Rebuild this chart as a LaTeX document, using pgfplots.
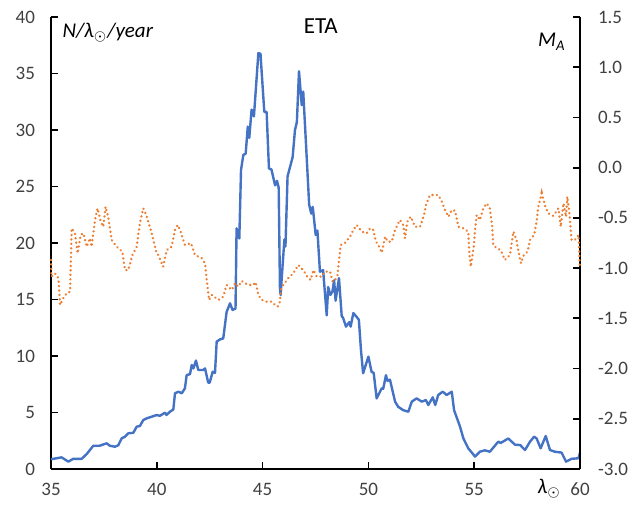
\documentclass[border=0pt]{standalone}
\usepackage{pgfplots}
\pgfplotsset{compat=1.18}
\usepackage{fontspec}
\setmainfont{Carlito}

\definecolor{rateblue}{HTML}{4472C4}
\definecolor{magorange}{HTML}{ED7D31}
\definecolor{ticktext}{HTML}{404040}

% Hourly rate N per unit solar longitude
\pgfplotstableread{
lam N
35.00 0.86
35.50 1.03
35.82 0.65
36.05 0.90
36.45 0.90
36.69 1.33
36.84 1.68
37.00 2.06
37.30 2.06
37.63 2.27
37.78 2.06
38.02 1.97
38.18 2.10
38.34 2.71
38.50 2.86
38.65 3.16
38.89 3.20
39.05 3.75
39.20 3.80
39.36 4.33
39.52 4.48
39.76 4.63
40.00 4.78
40.14 4.70
40.39 4.98
40.46 4.78
40.62 5.07
40.78 5.26
40.86 6.70
41.02 6.84
41.18 6.70
41.33 7.14
41.41 8.30
41.57 8.40
41.65 9.20
41.73 8.90
41.85 9.60
41.96 8.76
42.20 8.76
42.28 8.90
42.43 7.64
42.50 7.64
42.64 8.60
42.75 8.50
42.83 11.27
42.99 11.47
43.14 11.56
43.30 13.90
43.46 14.66
43.58 14.07
43.72 14.20
43.77 21.30
43.85 20.60
43.90 20.40
43.98 26.46
44.09 27.80
44.20 27.90
44.30 30.30
44.37 29.30
44.48 31.80
44.59 31.20
44.80 36.80
44.90 36.75
45.08 31.60
45.19 31.60
45.30 26.60
45.42 26.50
45.59 25.10
45.68 25.50
45.76 24.90
45.82 16.10
45.85 15.40
46.03 20.30
46.08 19.70
46.18 25.90
46.30 26.75
46.42 27.60
46.53 30.00
46.62 30.70
46.72 35.20
46.85 32.20
46.92 33.40
47.05 28.80
47.20 23.40
47.30 22.60
47.37 23.20
47.51 20.70
47.59 21.10
47.71 17.46
47.86 17.60
48.03 13.60
48.10 16.10
48.20 15.40
48.30 15.70
48.38 16.70
48.45 14.90
48.61 16.90
48.74 13.50
48.80 13.40
48.94 12.60
49.10 13.00
49.16 12.60
49.29 13.80
49.47 13.40
49.55 13.20
49.65 10.50
49.75 8.47
50.00 9.94
50.15 8.60
50.25 8.50
50.39 6.25
50.63 7.14
50.70 7.10
50.83 8.30
50.90 7.80
51.02 7.90
51.26 5.96
51.41 5.50
51.65 5.20
51.89 5.07
52.05 5.96
52.28 6.25
52.52 5.96
52.72 6.10
52.83 5.66
53.04 6.34
53.16 5.66
53.30 6.55
53.51 6.84
53.70 6.55
53.94 6.84
54.05 5.20
54.33 3.75
54.49 2.70
54.72 1.83
55.04 1.10
55.27 1.53
55.50 1.65
55.74 1.53
56.14 2.42
56.25 2.30
56.61 2.70
56.93 2.15
57.17 2.12
57.40 1.68
57.64 2.42
57.83 2.86
57.95 2.70
58.14 1.83
58.38 2.92
58.58 1.68
58.81 1.53
59.13 1.45
59.34 0.65
59.60 0.90
59.93 0.95
60.00 1.45
}\ratetable

% Mean magnitude M_A
\pgfplotstableread{
lam M
35.00 -0.919
35.02 -1.085
35.19 -1.052
35.35 -1.101
35.43 -1.367
35.58 -1.300
35.74 -1.250
35.90 -1.235
35.98 -0.604
36.13 -0.653
36.26 -0.853
36.40 -0.670
36.53 -0.653
36.69 -0.787
36.84 -0.703
36.92 -0.787
37.08 -0.521
37.20 -0.405
37.33 -0.521
37.47 -0.588
37.58 -0.389
37.70 -0.488
37.87 -0.720
38.10 -0.787
38.37 -0.836
38.50 -1.020
38.65 -1.020
38.85 -0.869
39.05 -0.787
39.20 -0.554
39.36 -0.405
39.50 -0.470
39.76 -0.653
39.99 -0.853
40.07 -0.869
40.30 -0.986
40.47 -0.820
40.70 -0.787
40.86 -0.620
40.99 -0.571
41.10 -0.620
41.33 -0.770
41.62 -0.753
41.80 -0.869
42.12 -0.902
42.28 -0.952
42.36 -1.118
42.47 -1.317
42.60 -1.268
42.91 -1.317
43.14 -1.284
43.30 -1.168
43.54 -1.218
43.70 -1.151
43.85 -1.185
44.01 -1.128
44.32 -1.168
44.56 -1.168
44.67 -1.140
44.80 -1.268
44.96 -1.317
45.19 -1.334
45.42 -1.334
45.59 -1.367
45.71 -1.384
45.82 -1.334
45.86 -1.218
45.98 -1.168
46.21 -1.101
46.45 -1.052
46.69 -0.969
46.92 -1.020
47.11 -1.085
47.27 -1.118
47.40 -1.020
47.56 -1.085
47.79 -1.085
47.95 -1.035
48.19 -1.035
48.31 -1.135
48.43 -1.118
48.54 -1.070
48.58 -0.986
48.63 -0.886
48.69 -0.770
48.90 -0.747
49.13 -0.687
49.29 -0.620
49.45 -0.571
49.69 -0.637
49.92 -0.653
50.08 -0.604
50.23 -0.620
50.36 -0.737
50.51 -0.787
50.63 -0.847
50.79 -0.687
50.92 -0.737
51.10 -0.737
51.26 -0.620
51.49 -0.521
51.65 -0.571
51.73 -0.703
51.84 -0.538
52.00 -0.488
52.20 -0.588
52.44 -0.588
52.63 -0.471
52.72 -0.372
52.91 -0.272
53.30 -0.272
53.47 -0.339
53.62 -0.421
53.78 -0.488
53.94 -0.421
54.10 -0.430
54.25 -0.588
54.49 -0.604
54.72 -0.637
54.77 -0.853
54.84 -0.986
54.98 -0.787
55.04 -0.620
55.12 -0.471
55.27 -0.521
55.43 -0.405
55.59 -0.355
55.74 -0.405
55.85 -0.588
55.90 -0.770
56.06 -0.803
56.25 -0.820
56.45 -0.919
56.69 -0.869
56.85 -0.637
57.00 -0.720
57.08 -0.820
57.21 -0.952
57.35 -0.869
57.52 -0.836
57.64 -0.720
57.83 -0.670
57.95 -0.538
58.03 -0.389
58.19 -0.255
58.35 -0.380
58.50 -0.454
58.74 -0.480
58.98 -0.405
59.09 -0.588
59.22 -0.355
59.34 -0.488
59.40 -0.289
59.50 -0.454
59.60 -0.720
59.76 -0.720
59.93 -0.670
59.99 -0.969
}\magtable

\pgfplotsset{
  common/.style={
    scale only axis,
    width=264.5pt, height=226pt,
    at={(0,0)}, anchor=south west,
    xmin=35, xmax=60,
    axis line style={line width=1pt, black},
    major tick style={line width=0.9pt, black},
    major tick length=3.5pt,
    tick label style={font=\fontsize{9.5}{11}\selectfont, text=ticktext},
    /pgf/number format/assume math mode=true,
  }
}

\begin{document}
\begin{tikzpicture}
\useasboundingbox (-25.5pt,-18.5pt) rectangle (293.5pt,234.5pt);

\begin{axis}[
  common,
  axis x line*=bottom, axis y line*=left,
  ymin=0, ymax=40,
  xtick={35,40,...,60},
  ytick={0,5,...,40},
  xticklabel style={yshift=-3.5pt},
  yticklabel style={xshift=-4.5pt},
  clip=false,
]
\addplot[rateblue, line width=1.2pt, line join=round] table[x=lam, y=N] {\ratetable};

\node[font=\fontsize{11.5}{13}\selectfont, anchor=center]
  at (rel axis cs:0.51,0.98) {ETA};
\node[font=\fontsize{10.5}{12}\selectfont\itshape, anchor=west, inner sep=0pt]
  at (rel axis cs:0.021,0.965) {N/λ$_{\odot}$/year};
\node[font=\fontsize{10.5}{12}\selectfont\itshape, anchor=center, inner sep=0pt]
  at (rel axis cs:0.942,-0.044) {λ$_{\odot}$};
\end{axis}

\begin{axis}[
  common,
  axis x line=none, axis y line*=right,
  ymin=-3, ymax=1.5,
  ytick={-3,-2.5,...,1.5},
  yticklabel style={anchor=west, xshift=5.5pt,
    /pgf/number format/.cd, fixed, fixed zerofill, precision=1},
  clip=false,
]
\addplot[magorange, line width=1.3pt, line cap=round,
  dash pattern=on 0.01pt off 2.2pt] table[x=lam, y=M] {\magtable};

\node[font=\fontsize{10.5}{12}\selectfont\itshape, anchor=east, inner sep=0pt]
  at (rel axis cs:0.9735,0.945) {M\textsubscript{A}};
\end{axis}
\end{tikzpicture}
\end{document}
